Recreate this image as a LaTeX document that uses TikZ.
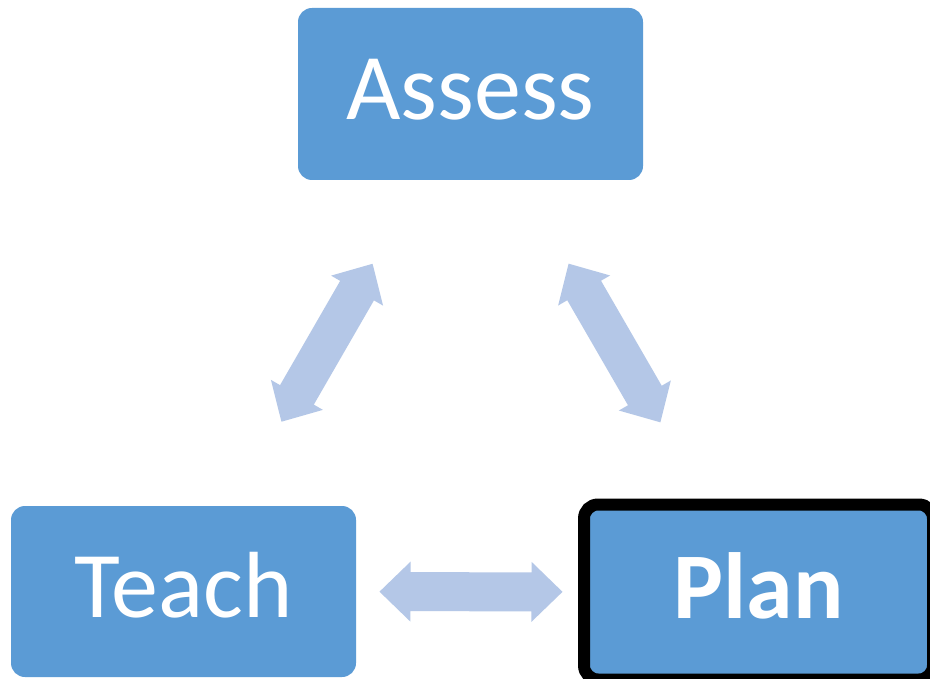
\documentclass[tikz,border=0pt]{standalone}
\usepackage{fontspec}
\setmainfont{Carlito}
\usetikzlibrary{calc}
\definecolor{boxblue}{HTML}{5B9BD5}
\definecolor{arrowblue}{HTML}{B4C7E7}
\tikzset{
  stagebox/.style={fill=boxblue, rounded corners=14pt, text=white,
    minimum width=345pt, minimum height=171pt, inner sep=0pt,
    font=\fontsize{94}{100}\selectfont, text height=60pt, text depth=8pt},
  bigarrow/.style={fill=arrowblue, to path={
    ($(\tikztostart)!196pt!(\tikztotarget)$)
    -- ($(\tikztostart)!227pt!(\tikztotarget)!30pt!90:(\tikztotarget)$)
    -- ($(\tikztostart)!227pt!(\tikztotarget)!19.5pt!90:(\tikztotarget)$)
    -- ($(\tikztotarget)!227pt!(\tikztostart)!19.5pt!90:(\tikztotarget)$)
    -- ($(\tikztotarget)!227pt!(\tikztostart)!30pt!90:(\tikztotarget)$)
    -- ($(\tikztotarget)!196pt!(\tikztostart)$)
    -- ($(\tikztotarget)!227pt!(\tikztostart)!30pt!-90:(\tikztotarget)$)
    -- ($(\tikztotarget)!227pt!(\tikztostart)!19.5pt!-90:(\tikztotarget)$)
    -- ($(\tikztostart)!227pt!(\tikztotarget)!19.5pt!-90:(\tikztotarget)$)
    -- ($(\tikztostart)!227pt!(\tikztotarget)!30pt!-90:(\tikztotarget)$)
    -- cycle}}
}
\begin{document}
\begin{tikzpicture}[x=1pt,y=-1pt]
  \clip (0,0) rectangle (930,679);
  \fill[white] (0,0) rectangle (930,679);
  \node[stagebox, minimum height=172pt] (assess) at (470.5,94) {Assess};
  \node[stagebox] (teach) at (183.5,591.5) {Teach};
  \node[stagebox, draw=black, line width=12pt, rounded corners=14pt,
        minimum width=349pt, minimum height=175pt,
        font=\fontsize{94}{100}\selectfont\bfseries] (plan) at (758.5,592) {Plan};
  \path[bigarrow] (teach.center) to (assess.center);
  \path[bigarrow] (assess.center) to (plan.center);
  \path[bigarrow] (teach.center) to (plan.center);
\end{tikzpicture}
\end{document}
